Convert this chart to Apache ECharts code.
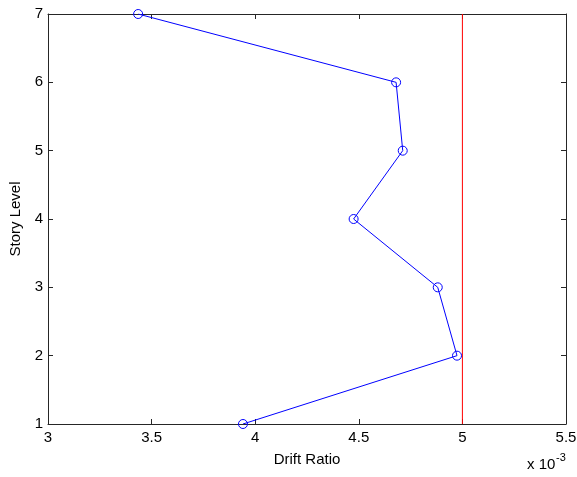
<!DOCTYPE html>
<html><head><meta charset="utf-8">
<script src="https://cdn.jsdelivr.net/npm/echarts@6/dist/echarts.min.js"></script>
<style>html,body{margin:0;padding:0;background:#fff}#c{width:577px;height:477px}</style>
</head><body><div id="c"></div>
<script>
const storyLevels = [1, 2, 3, 4, 5, 6, 7];
const driftRatio = [0.003941, 0.004974, 0.004881, 0.004475, 0.004712, 0.004680, 0.003435];
const limitDrift = 0.005;
const xTicks = [0.003, 0.0035, 0.004, 0.0045, 0.005, 0.0055];
const yTicks = [1, 2, 3, 4, 5, 6, 7];

const chart = echarts.init(document.getElementById('c'));
const font = 'Liberation Sans, Arial, sans-serif';
const axisLineStyle = {color: '#262626', width: 1};
const fmtX = v => String(Math.round(v * 10000) / 10);
chart.setOption({
  animation: false,
  grid: {left: 48, right: 11, top: 14, bottom: 53, containLabel: false, outerBoundsMode: 'none'},
  xAxis: [{
    type: 'value', min: xTicks[0], max: xTicks[xTicks.length - 1], interval: 0.0005, position: 'bottom',
    axisLine: {show: true, onZero: false, lineStyle: axisLineStyle},
    axisTick: {show: true, inside: true, length: 5, lineStyle: axisLineStyle},
    axisLabel: {formatter: fmtX, color: '#000', fontFamily: font, fontSize: 15, margin: 6},
    splitLine: {show: false},
    name: 'Drift Ratio', nameLocation: 'middle', nameGap: 28,
    nameTextStyle: {color: '#000', fontFamily: font, fontSize: 15}
  }, {
    type: 'value', min: xTicks[0], max: xTicks[xTicks.length - 1], interval: 0.0005, position: 'top',
    axisLine: {show: true, onZero: false, lineStyle: axisLineStyle},
    axisTick: {show: true, inside: true, length: 5, lineStyle: axisLineStyle},
    axisLabel: {show: false}, splitLine: {show: false}
  }],
  yAxis: [{
    type: 'value', min: yTicks[0], max: yTicks[yTicks.length - 1], interval: 1, position: 'left',
    axisLine: {show: true, onZero: false, lineStyle: axisLineStyle},
    axisTick: {show: true, inside: true, length: 5, lineStyle: axisLineStyle},
    axisLabel: {color: '#000', fontFamily: font, fontSize: 15, margin: 5},
    splitLine: {show: false},
    name: 'Story Level', nameLocation: 'middle', nameGap: 24,
    nameTextStyle: {color: '#000', fontFamily: font, fontSize: 15}
  }, {
    type: 'value', min: yTicks[0], max: yTicks[yTicks.length - 1], interval: 1, position: 'right',
    axisLine: {show: true, onZero: false, lineStyle: axisLineStyle},
    axisTick: {show: true, inside: true, length: 5, lineStyle: axisLineStyle},
    axisLabel: {show: false}, splitLine: {show: false}
  }],
  graphic: [{
    type: 'group', left: 527, top: 452,
    children: [
      {type: 'text', style: {text: 'x 10', x: 0, y: 5, font: '15px ' + font, fill: '#000'}},
      {type: 'text', style: {text: '-3', x: 29, y: 0, font: '11px ' + font, fill: '#000'}}
    ]
  }],
  series: [{
    type: 'line',
    data: [[limitDrift, yTicks[0]], [limitDrift, yTicks[yTicks.length - 1]]],
    symbol: 'none',
    lineStyle: {color: '#ff0000', width: 1},
    itemStyle: {color: '#ff0000'},
    z: 2
  }, {
    type: 'line',
    data: driftRatio.map((d, i) => [d, storyLevels[i]]),
    symbol: 'circle', symbolSize: 9,
    lineStyle: {color: '#0000ff', width: 1},
    itemStyle: {color: 'rgba(0,0,0,0)', borderColor: '#0000ff', borderWidth: 1},
    z: 3
  }]
});
</script></body></html>
